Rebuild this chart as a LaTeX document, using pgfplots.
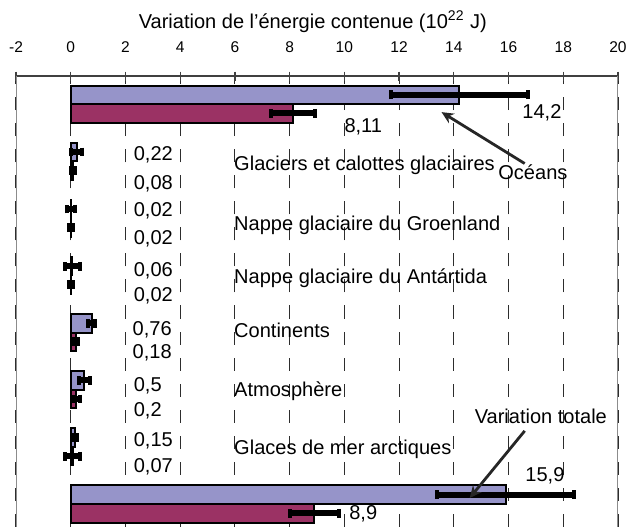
\documentclass[border=0pt]{standalone}
\usepackage{pgfplots}
\pgfplotsset{compat=1.18}
\usepackage{pgfplotstable}
\usetikzlibrary{arrows.meta}
\usepackage{fontspec}
\setmainfont{Liberation Sans}
\definecolor{bl}{RGB}{150,148,201}
\definecolor{pu}{RGB}{155,50,100}
\definecolor{gridc}{RGB}{45,45,45}

\pgfplotstableread{
y x ex
7 14.2 2.5
6 0.22 0.2
5 0.02 0.15
4 0.06 0.28
3 0.76 0.12
2 0.5 0.2
1 0.15 0.08
0 15.9 2.5
}\bluedata
\pgfplotstableread{
y x ex
7 8.11 0.8
6 0.08 0.08
5 0.02 0.07
4 0.02 0.07
3 0.18 0.1
2 0.2 0.12
1 0.07 0.28
0 8.9 0.9
}\purpledata

\begin{document}
\begin{tikzpicture}
\useasboundingbox (-8pt,0pt) rectangle (304.5pt,263pt);
\begin{axis}[
  at={(0,0)}, anchor=south west,
  scale only axis, width=300.5pt, height=225pt,
  xmin=-2, xmax=20, ymin=-0.4, ymax=7.49,
  axis x line*=top, axis y line=none,
  xtick={-2,0,...,20},
  xmajorgrids,
  grid style={gridc, line width=0.55pt, dash pattern=on 6.5pt off 6.5pt},
  x axis line style={draw=black!75, line width=0.8pt, -},
  xtick align=center, major tick length=4.5pt,
  xtick style={draw=black!75, line width=0.6pt},
  xticklabel style={font=\fontsize{7.75}{9}\selectfont, anchor=base, yshift=9.5pt},
  /pgf/number format/assume math mode=true,
  xlabel={Variation de l’énergie contenue (10\textsuperscript{22} J)},
  xlabel style={font=\fontsize{10}{12}\selectfont, at={(rel axis cs:0.493,1)}, anchor=base, yshift=24pt},
  xbar, bar width=0.325,
  every node/.append style={font=\fontsize{9.5}{11}\selectfont},
]
\addplot[xbar, fill=bl, draw=black, line width=1pt, bar shift=0.1625,
  error bars/.cd, x dir=both, x explicit,
  error bar style={line width=3pt, black, solid},
  error mark=|,
  error mark options={black, line width=2pt, mark size=2.2pt}]
  table[x=x, y=y, x error=ex] {\bluedata};
\addplot[xbar, fill=pu, draw=black, line width=1pt, bar shift=-0.1625,
  error bars/.cd, x dir=both, x explicit,
  error bar style={line width=3pt, black, solid},
  error mark=|,
  error mark options={black, line width=2pt, mark size=2.2pt}]
  table[x=x, y=y, x error=ex] {\purpledata};

\draw[black!45, line width=1pt] (rel axis cs:0,0) -- (rel axis cs:0,1);
\draw[black!45, line width=1pt] (rel axis cs:1,0) -- (rel axis cs:1,1);

% value labels
\node[inner sep=0pt] at (axis cs:17.22,6.84) {14,2};
\node[inner sep=0pt] at (axis cs:10.69,6.60) {8,11};
\node[inner sep=0pt] at (axis cs:17.33,0.49) {15,9};
\node[inner sep=0pt] at (axis cs:10.69,-0.175) {8,9};
\node[inner sep=0pt, anchor=west] at (axis cs:2.29,6.105) {0,22};
\node[inner sep=0pt, anchor=west] at (axis cs:2.29,5.61) {0,08};
\node[inner sep=0pt, anchor=west] at (axis cs:2.29,5.14) {0,02};
\node[inner sep=0pt, anchor=west] at (axis cs:2.29,4.65) {0,02};
\node[inner sep=0pt, anchor=west] at (axis cs:2.29,4.09) {0,06};
\node[inner sep=0pt, anchor=west] at (axis cs:2.29,3.65) {0,02};
\node[inner sep=0pt, anchor=west] at (axis cs:2.25,3.05) {0,76};
\node[inner sep=0pt, anchor=west] at (axis cs:2.25,2.65) {0,18};
\node[inner sep=0pt, anchor=west] at (axis cs:2.29,2.07) {0,5};
\node[inner sep=0pt, anchor=west] at (axis cs:2.29,1.63) {0,2};
\node[inner sep=0pt, anchor=west] at (axis cs:2.29,1.105) {0,15};
\node[inner sep=0pt, anchor=west] at (axis cs:2.29,0.65) {0,07};
% category labels
\node[inner sep=0pt, anchor=west] at (axis cs:5.96,5.93) {Glaciers et calottes glaciaires};
\node[inner sep=0pt, anchor=west] at (axis cs:5.96,4.88) {Nappe glaciaire du Groenland};
\node[inner sep=0pt, anchor=west] at (axis cs:5.96,3.95) {Nappe glaciaire du Antártida};
\node[inner sep=0pt, anchor=west] at (axis cs:5.96,3.04) {Continents};
\node[inner sep=0pt, anchor=west] at (axis cs:5.96,1.98) {Atmosphère};
\node[inner sep=0pt, anchor=west] at (axis cs:5.96,0.965) {Glaces de mer arctiques};
\node[inner sep=0pt] at (axis cs:16.89,5.81) {Océans};
\node[inner sep=0pt] at (axis cs:17.18,1.54) {Variation totale};
% arrows
\draw[-{Stealth[length=6pt,width=5.5pt]}, line width=1.4pt, black!85]
  (axis cs:16.59,5.96) -- (axis cs:13.55,6.86);
\draw[-{Stealth[length=6pt,width=5.5pt]}, line width=1.4pt, black!85]
  (axis cs:16.59,1.28) -- (axis cs:14.58,0.105);
\end{axis}
\end{tikzpicture}
\end{document}
